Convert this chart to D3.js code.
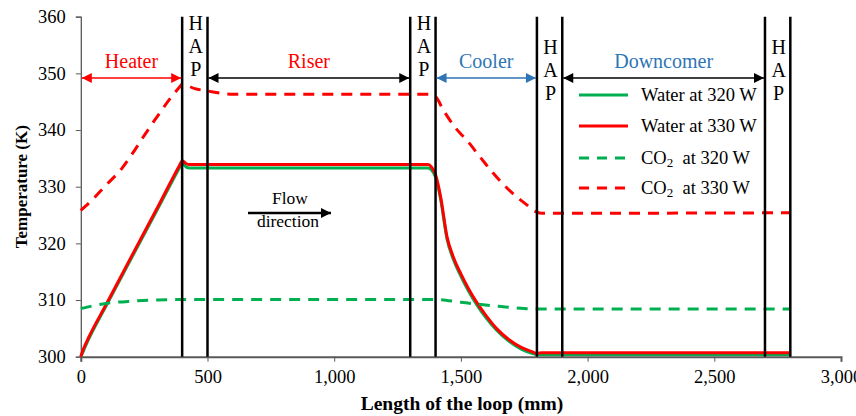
<!DOCTYPE html>
<html>
<head>
<meta charset="utf-8">
<title>Temperature along the loop</title>
<script src="https://d3js.org/d3.v7.min.js"></script>
<style>
    body { margin: 0; background: #fff; }
    svg text { font-family: "Liberation Serif", "Times New Roman", serif; }
    .axis path, .axis line { stroke: #595959; }
    .axis text { fill: #000; font-size: 18.5px; }
</style>
</head>
<body>
<div id="chart"></div>
<script>
// Length (mm) and temperature (K)
const waterX = [0, 10, 30, 100, 200, 300, 390, 400, 415, 430, 1370, 1385, 1400, 1420, 1445, 1470, 1500, 1530, 1565, 1600, 1640, 1690, 1740, 1780, 1800, 1820, 2800];
const water320 = [300.0, 301.0, 303.0, 309.0, 317.4, 325.8, 333.4, 334.2, 333.5, 333.3, 333.3, 332.9, 331.7, 327.8, 320.8, 317.2, 314.2, 311.6, 309.0, 306.8, 304.7, 302.7, 301.3, 300.6, 300.4, 300.4, 300.4];
const water330 = [300.0, 301.3, 303.3, 309.2, 317.7, 326.1, 333.8, 334.6, 334.1, 333.9, 333.9, 333.4, 332.1, 328.2, 321.2, 317.6, 314.6, 312.0, 309.4, 307.2, 305.0, 303.0, 301.6, 300.9, 300.6, 300.7, 300.7];

const co2X330 = [0, 50, 100, 160, 200, 250, 305, 350, 390, 400, 450, 500, 550, 600, 1380, 1400, 1431, 1480, 1523, 1580, 1627, 1700, 1760, 1800, 1820, 2800];
const co2330 = [325.8, 327.9, 330.3, 333.1, 335.6, 339.0, 342.6, 345.4, 347.6, 348.1, 347.3, 346.9, 346.5, 346.3, 346.3, 345.9, 343.5, 340.3, 338.2, 335.0, 332.4, 329.0, 326.8, 325.5, 325.3, 325.4];

const co2X320 = [0, 50, 100, 200, 300, 400, 1400, 1500, 1560, 1650, 1750, 1800, 2800];
const co2320 = [308.5, 309.0, 309.4, 309.8, 310.0, 310.1, 310.1, 309.6, 309.3, 308.9, 308.5, 308.4, 308.4];

// section boundaries (mm)
const boundaries = [400, 500, 1300, 1400, 1800, 1900, 2700, 2800];
const hapSections = [[400, 500, 0], [1300, 1400, 0], [1800, 1900, 1], [2700, 2800, 1]];
const regions = [
    { name: "Heater", from: 0, to: 400, color: "#ff0000", arrow: "#ff0000" },
    { name: "Riser", from: 500, to: 1300, color: "#ff0000", arrow: "#000000" },
    { name: "Cooler", from: 1400, to: 1800, color: "#2e75b6", arrow: "#2e75b6" },
    { name: "Downcomer", from: 1900, to: 2700, color: "#2e75b6", arrow: "#000000" }
];
const xTicks = [0, 500, 1000, 1500, 2000, 2500, 3000];
const yTicks = [300, 310, 320, 330, 340, 350, 360];

const series = [
    { label: "Water at 320 W", xs: waterX, ys: water320, color: "#00b050", dash: null },
    { label: "Water at 330 W", xs: waterX, ys: water330, color: "#ff0000", dash: null },
    { label: "CO2 at 320 W", xs: co2X320, ys: co2320, color: "#00b050", dash: "11,8" },
    { label: "CO2 at 330 W", xs: co2X330, ys: co2330, color: "#ff0000", dash: "11,8" }
];

const width = 856, height = 416;
const svg = d3.select("#chart").append("svg")
    .attr("width", width)
    .attr("height", height);

const x = d3.scaleLinear().domain([0, 3000]).range([80.8, 841]);
const y = d3.scaleLinear().domain([300, 360]).range([356.7, 16.7]);

// arrow heads
const defs = svg.append("defs");
["#ff0000", "#000000", "#2e75b6"].forEach(function (c, i) {
    defs.append("marker")
        .attr("id", "head" + i)
        .attr("viewBox", "0 0 10 10")
        .attr("refX", 10).attr("refY", 5)
        .attr("markerWidth", 11).attr("markerHeight", 10)
        .attr("markerUnits", "userSpaceOnUse")
        .attr("orient", "auto-start-reverse")
        .append("path")
        .attr("d", "M0,0 L10,5 L0,10 Z")
        .attr("fill", c);
});
const headId = { "#ff0000": "head0", "#000000": "head1", "#2e75b6": "head2" };

// axes
const yAxis = svg.append("g")
    .attr("class", "axis")
    .attr("transform", "translate(" + x(0) + ",0)")
    .call(d3.axisLeft(y).tickValues(yTicks).tickSizeOuter(0).tickSize(5).tickPadding(10));
yAxis.select(".domain").attr("stroke-width", 1.3);

const xAxis = svg.append("g")
    .attr("class", "axis")
    .attr("transform", "translate(0," + y(300) + ")")
    .call(d3.axisBottom(x).tickValues(xTicks).tickFormat(d3.format(",")).tickSizeOuter(0).tickSize(5).tickPadding(8));
xAxis.select(".domain").attr("stroke-width", 2);

svg.append("text")
    .attr("transform", "translate(27," + ((y(300) + y(360)) / 2) + ") rotate(-90)")
    .attr("text-anchor", "middle")
    .attr("font-weight", "bold")
    .attr("font-size", "17px")
    .text("Temperature (K)");

svg.append("text")
    .attr("x", 462).attr("y", 410)
    .attr("text-anchor", "middle")
    .attr("font-weight", "bold")
    .attr("font-size", "19.5px")
    .text("Length of the loop (mm)");

// series lines
const line = d3.line().curve(d3.curveMonotoneX);
series.forEach(function (s) {
    const pts = s.xs.map(function (v, i) { return [x(v), y(s.ys[i])]; });
    svg.append("path")
        .attr("d", line(pts))
        .attr("fill", "none")
        .attr("stroke", s.color)
        .attr("stroke-width", 3)
        .attr("stroke-dasharray", s.dash);
});

// section boundary lines
svg.selectAll(".bound")
    .data(boundaries)
    .enter()
    .append("line")
    .attr("class", "bound")
    .attr("x1", function (d) { return x(d); })
    .attr("x2", function (d) { return x(d); })
    .attr("y1", y(360))
    .attr("y2", y(300))
    .attr("stroke", "#000")
    .attr("stroke-width", 2.5);

// HAP letters
hapSections.forEach(function (h) {
    const cx = x((h[0] + h[1]) / 2);
    const top = h[2] === 0 ? 30 : 54;
    ["H", "A", "P"].forEach(function (ch, i) {
        svg.append("text")
            .attr("x", cx + 1).attr("y", top + i * 23)
            .attr("text-anchor", "middle")
            .attr("font-size", "20px")
            .text(ch);
    });
});

// region arrows and names
regions.forEach(function (r) {
    svg.append("line")
        .attr("x1", x(r.from) + 1).attr("x2", x(r.to) - 1)
        .attr("y1", 78).attr("y2", 78)
        .attr("stroke", r.arrow)
        .attr("stroke-width", 1.3)
        .attr("marker-start", "url(#" + headId[r.arrow] + ")")
        .attr("marker-end", "url(#" + headId[r.arrow] + ")");
    svg.append("text")
        .attr("x", x((r.from + r.to) / 2)).attr("y", 68)
        .attr("text-anchor", "middle")
        .attr("font-size", "20px")
        .attr("fill", r.color)
        .text(r.name);
});

// flow direction
svg.append("text").attr("x", 290).attr("y", 204)
    .attr("text-anchor", "middle").attr("font-size", "17.5px").text("Flow");
svg.append("line")
    .attr("x1", 248).attr("x2", 331).attr("y1", 213).attr("y2", 213)
    .attr("stroke", "#000").attr("stroke-width", 2.5)
    .attr("marker-end", "url(#head1)");
svg.append("text").attr("x", 288).attr("y", 227)
    .attr("text-anchor", "middle").attr("font-size", "17.5px").text("direction");

// legend
const legend = svg.append("g");
series.forEach(function (s, i) {
    const ly = [95, 126, 158, 188][i];
    legend.append("line")
        .attr("x1", 579).attr("x2", 628)
        .attr("y1", ly).attr("y2", ly)
        .attr("stroke", s.color)
        .attr("stroke-width", 3)
        .attr("stroke-dasharray", s.dash ? "10,8" : null);
    const t = legend.append("text")
        .attr("x", 641).attr("y", ly + 6)
        .attr("font-size", "18.5px");
    if (s.label.startsWith("CO2")) {
        t.append("tspan").text("CO");
        t.append("tspan").attr("font-size", "13px").attr("dy", 3).text("2");
        t.append("tspan").attr("dy", -3).attr("xml:space", "preserve").text("  " + s.label.slice(4));
    } else {
        t.text(s.label);
    }
});
</script>
</body>
</html>
